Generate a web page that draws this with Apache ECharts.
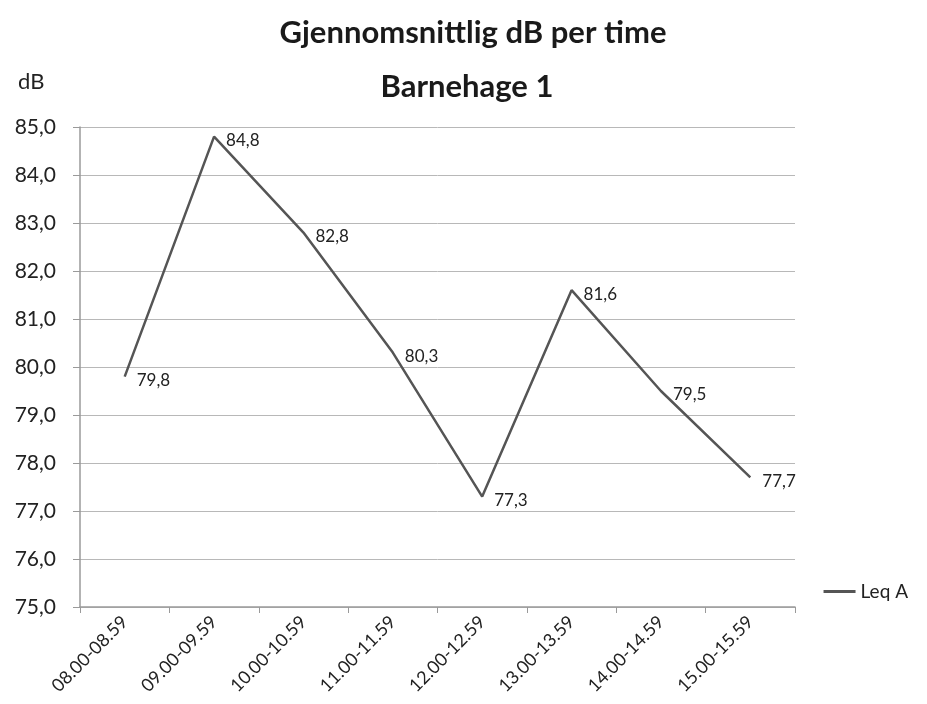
<!DOCTYPE html>
<html>
<head>
<meta charset="utf-8">
<script src="https://cdn.jsdelivr.net/npm/echarts@6/dist/echarts.min.js"></script>
<style>
  html, body { margin: 0; padding: 0; background: #fff; }
  #chart { width: 927px; height: 704px; }
</style>
</head>
<body>
<div id="chart"></div>
<script>
const categories = ["08.00-08.59", "09.00-09.59", "10.00-10.59", "11.00-11.59",
  "12.00-12.59", "13.00-13.59", "14.00-14.59", "15.00-15.59"];
const leqA = [79.8, 84.8, 82.8, 80.3, 77.3, 81.6, 79.5, 77.7];
const seriesName = "Leq A";
const yMin = 75;
const yMax = 85;

const font = "Lato, 'Open Sans', sans-serif";
const fmt = v => v.toFixed(1).replace(".", ",");

const chart = echarts.init(document.getElementById("chart"));
chart.setOption({
  backgroundColor: "#ffffff",
  textStyle: { fontFamily: font },
  title: [
    {
      text: "Gjennomsnittlig dB per time",
      left: 468,
      top: 12,
      textAlign: "center",
      textStyle: { fontSize: 31, fontWeight: "bold", color: "#1a1a1a", fontFamily: font }
    },
    {
      text: "Barnehage 1",
      left: 462,
      top: 66,
      textAlign: "center",
      textStyle: { fontSize: 31, fontWeight: "bold", color: "#1a1a1a", fontFamily: font }
    },
    {
      text: "dB",
      left: 13,
      top: 66,
      textStyle: { fontSize: 22, fontWeight: "normal", color: "#222", fontFamily: font }
    }
  ],
  legend: {
    data: [seriesName],
    right: 14,
    top: 577,
    itemWidth: 32,
    itemHeight: 3,
    icon: "rect",
    itemGap: 4,
    textStyle: { fontSize: 19, color: "#222", fontFamily: font }
  },
  grid: { left: 80, right: 132, top: 127, bottom: 97 },
  xAxis: {
    type: "category",
    data: categories,
    boundaryGap: true,
    axisLine: { show: true, lineStyle: { color: "#9a9a9a", width: 1.5 } },
    axisTick: { show: true, length: 6, lineStyle: { color: "#9a9a9a" } },
    axisLabel: { rotate: 45, fontSize: 18, color: "#222", margin: 12, fontFamily: font }
  },
  yAxis: {
    type: "value",
    min: yMin,
    max: yMax,
    interval: 1,
    axisLine: { show: true, lineStyle: { color: "#9a9a9a", width: 1.5 } },
    axisTick: { show: true, length: 7, lineStyle: { color: "#9a9a9a" } },
    splitLine: { show: true, lineStyle: { color: "#b8b8b8", width: 1 } },
    axisLabel: { fontSize: 21, color: "#222", margin: 24, formatter: fmt, fontFamily: font }
  },
  series: [
    {
      name: seriesName,
      type: "line",
      data: leqA,
      symbol: "circle",
      symbolSize: 0,
      showAllSymbol: true,
      lineStyle: { color: "#555555", width: 2.5 },
      itemStyle: { color: "#555555" },
      label: {
        show: true,
        position: "right",
        distance: 12,
        offset: [0, 4],
        fontSize: 17,
        color: "#222",
        fontFamily: font,
        formatter: p => fmt(p.value)
      },
      animation: false
    }
  ],
  animation: false
});
</script>
</body>
</html>
